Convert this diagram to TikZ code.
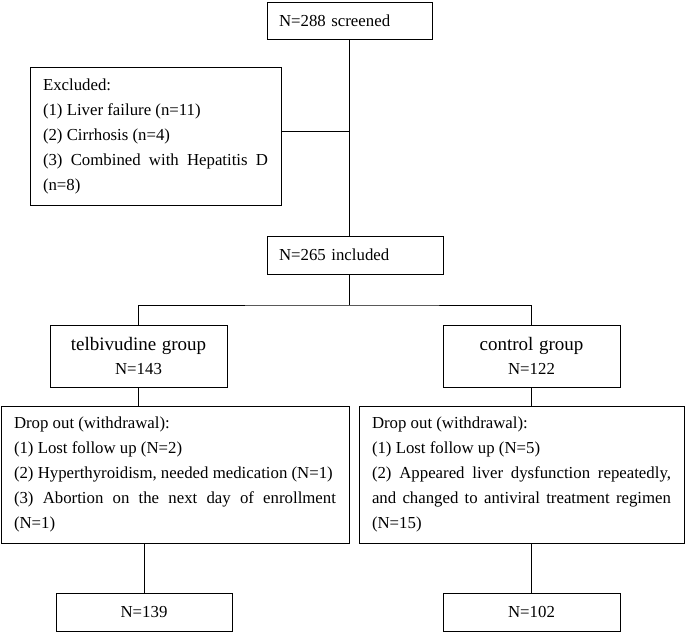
\documentclass[tikz,border=0pt]{standalone}
\usepackage{fontspec}
\setmainfont{Liberation Serif}
\setlength{\parindent}{0pt}
\begin{document}
\begin{tikzpicture}[x=1pt,y=-1pt,line width=1pt,
  box/.style={draw,rectangle,inner xsep=12pt,inner ysep=0pt,
    font=\fontsize{16.8}{25}\selectfont},
  listbox/.style={box,align=justify,inner xsep=13pt},
  groupbox/.style={box,text width=153pt,align=center,minimum height=62pt,
    font=\fontsize{16.8}{24}\selectfont}]
\useasboundingbox (0,0) rectangle (685,633);
\node[box,text width=141pt,align=left,minimum height=37pt] (screened) at (349.5,20.5) {N=288 screened};
\node[listbox,text width=225pt,minimum height=138pt] (excl) at (155.5,136) {Excluded:\\
(1) Liver failure (n=11)\\
(2) Cirrhosis (n=4)\\
(3) Combined with Hepatitis D\linebreak (n=8)};
\node[box,text width=152pt,align=left,minimum height=38pt] (included) at (355,255) {N=265 included};
\node[groupbox] (telb) at (138.5,356) {{\fontsize{19}{24}\selectfont telbivudine group}\\ N=143};
\node[groupbox] (ctrl) at (531.5,356) {{\fontsize{19}{24}\selectfont control group}\\ N=122};
\node[listbox,text width=322pt,minimum height=137pt] (drop1) at (175,474.5) {Drop out (withdrawal):\\
(1) Lost follow up (N=2)\\
(2) Hyperthyroidism, needed medication (N=1)\\
(3) Abortion on the next day of enrollment\linebreak (N=1)};
\node[listbox,text width=299pt,minimum height=137pt] (drop2) at (521.5,474.5) {Drop out (withdrawal):\\
(1) Lost follow up (N=5)\\
(2) Appeared liver dysfunction repeatedly,\linebreak and changed to antiviral treatment regimen\linebreak (N=15)};
\node[box,text width=152pt,align=center,minimum height=38pt] (n139) at (144,612) {N=139};
\node[box,text width=153pt,align=center,minimum height=38pt] (n102) at (531.5,612) {N=102};
\coordinate (split) at (349,305);
\draw (screened.south) -- (screened.south |- included.north);
\draw ([yshift=5pt]excl.east) -- ([yshift=5pt]excl.east -| screened.south);
\draw (included.south -| split) -- (split);
\draw (telb.north) |- (split) -| (ctrl.north);
\draw (telb.south) -- (telb.south |- drop1.north);
\draw (n139.north |- drop1.south) -- (n139.north);
\draw (ctrl.south) -- (ctrl.south |- drop2.north);
\draw (n102.north |- drop2.south) -- (n102.north);
\end{tikzpicture}
\end{document}
